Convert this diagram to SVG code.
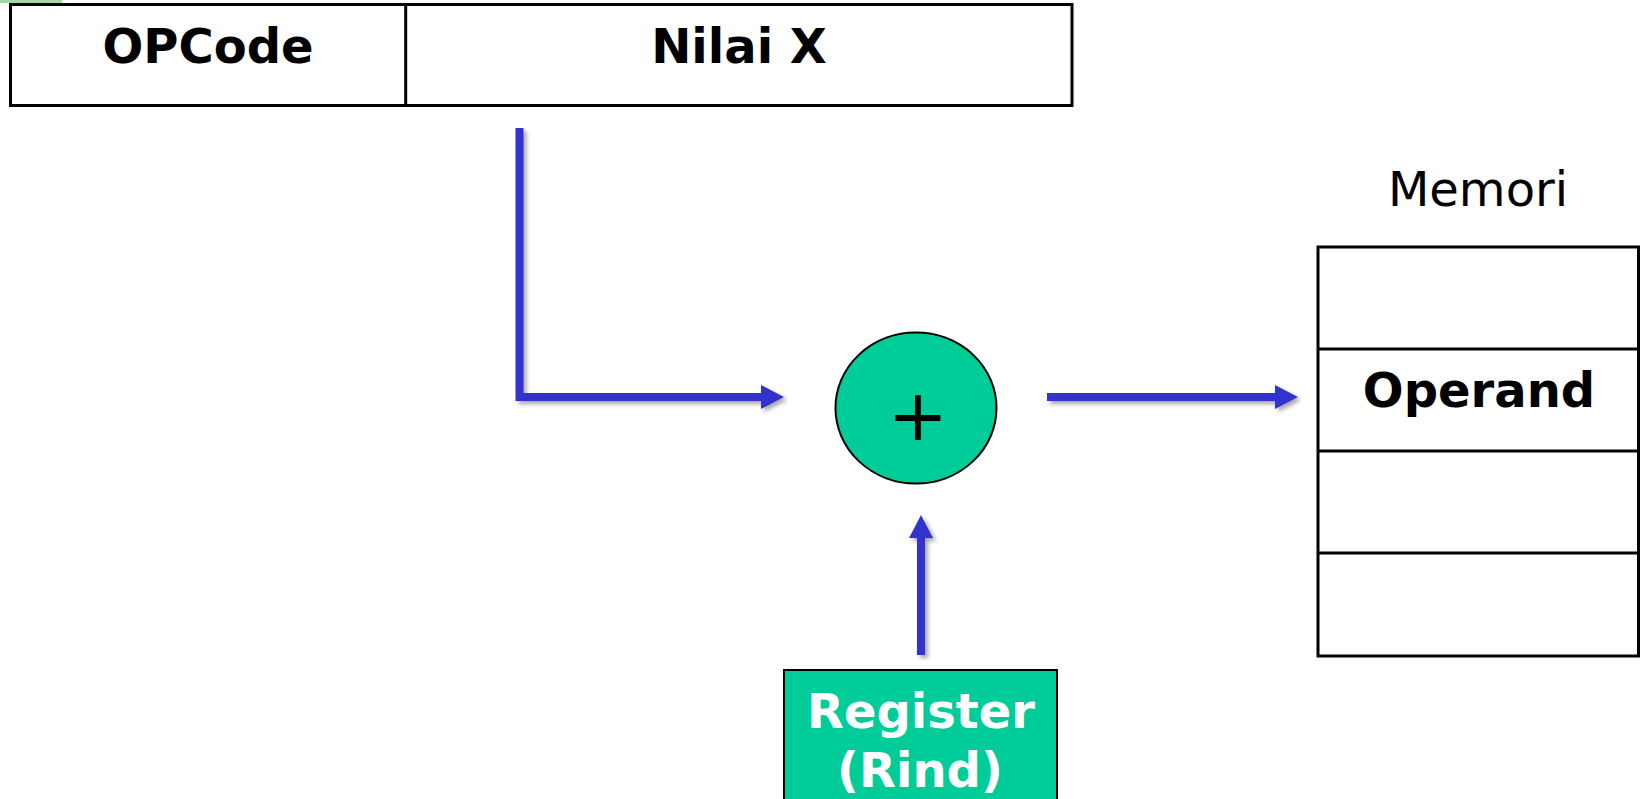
<svg xmlns="http://www.w3.org/2000/svg" width="1640" height="799" viewBox="0 0 1640 799">
  <style>
    .cell { fill: #ffffff; stroke: #000000; stroke-width: 3; }
    .sep { stroke: #000000; stroke-width: 3; fill: none; }
    .lbl { font-family: "DejaVu Sans", Verdana, sans-serif; font-size: 48px; fill: #000000; text-anchor: middle; }
    .b { font-weight: bold; }
    .w { fill: #ffffff; }
    .plus { font-size: 72px; }
    .wire { fill: none; stroke: #3333CC; stroke-width: 8; stroke-linejoin: miter; }
    .green { fill: #00CC99; stroke: #000000; stroke-width: 2; }
  </style>
  <defs>
    <marker id="head" viewBox="0 0 23 24" markerUnits="userSpaceOnUse" markerWidth="23" markerHeight="24" refX="0" refY="12" orient="auto">
      <path d="M0,0 L23,12 L0,24 Z" fill="#3333CC"/>
    </marker>
    <filter id="shadow" x="-20%" y="-20%" width="140%" height="140%">
      <feDropShadow dx="3" dy="3" stdDeviation="2" flood-color="#000000" flood-opacity="0.35"/>
    </filter>
  </defs>
  <rect width="1640" height="799" fill="#ffffff"/>
  <rect x="0" y="0" width="62" height="3" fill="#a6d6a0"/>

  <g id="instruction">
    <rect class="cell" x="10.5" y="4.5" width="1061.5" height="101"/>
    <line class="sep" x1="405.7" y1="4.5" x2="405.7" y2="105.5"/>
    <text class="lbl b" x="208" y="63">OPCode</text>
    <text class="lbl b" x="739" y="63">Nilai X</text>
  </g>

  <g id="adder">
    <ellipse class="green" cx="916" cy="408" rx="80.5" ry="75.5"/>
    <text class="lbl plus" x="918" y="440">+</text>
  </g>

  <g id="memory">
    <text class="lbl" x="1478" y="206">Memori</text>
    <rect class="cell" x="1318" y="247" width="320.5" height="409"/>
    <line class="sep" x1="1318" y1="349" x2="1640" y2="349"/>
    <line class="sep" x1="1318" y1="451" x2="1640" y2="451"/>
    <line class="sep" x1="1318" y1="553" x2="1640" y2="553"/>
    <text class="lbl b" x="1479" y="407">Operand</text>
  </g>

  <g id="register">
    <rect class="green" x="784" y="670" width="273" height="150"/>
    <text class="lbl b w" x="921" y="728">Register</text>
    <text class="lbl b w" x="920" y="787">(Rind)</text>
  </g>

  <g id="connectors" filter="url(#shadow)">
    <path class="wire" d="M519.5,128 V397 H761" marker-end="url(#head)"/>
    <path class="wire" d="M1047,397 H1275" marker-end="url(#head)"/>
    <path class="wire" d="M921,655 V538" marker-end="url(#head)"/>
  </g>
</svg>
